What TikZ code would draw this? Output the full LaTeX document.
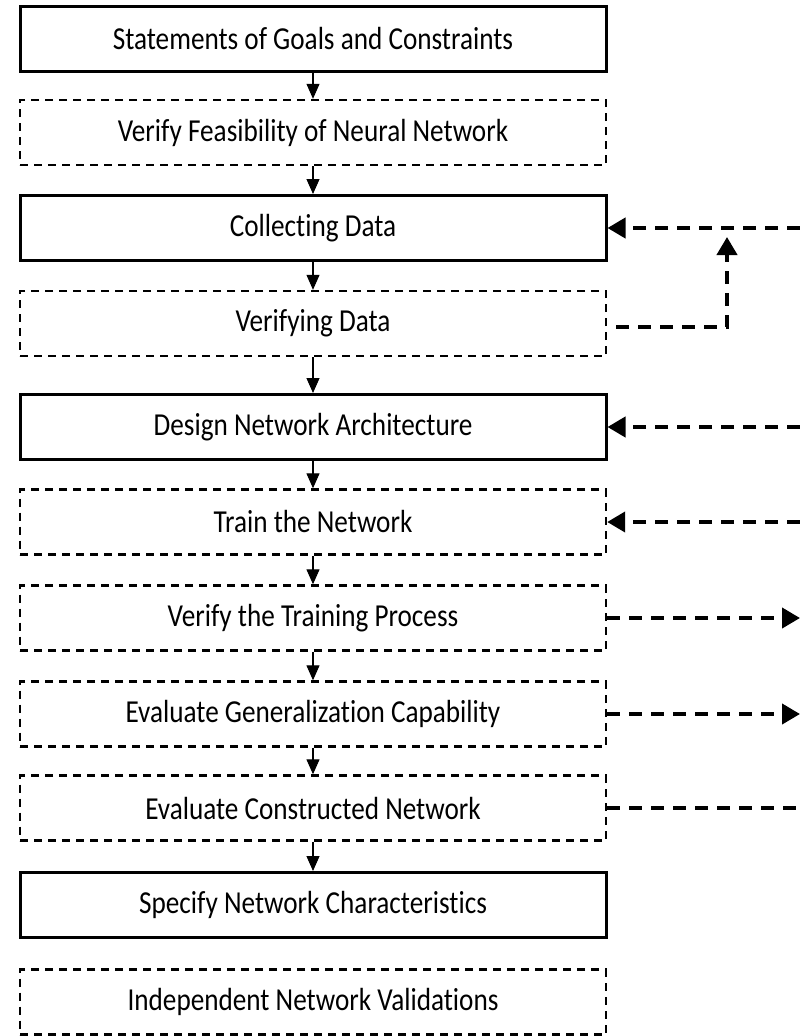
\documentclass[tikz,border=0pt]{standalone}
\usepackage{fontspec}
\setmainfont[FakeStretch=0.85, Ligatures=NoCommon]{Carlito}
\usetikzlibrary{arrows.meta}
\tikzset{
  stepbox/.style={draw=black, line width=3pt, minimum width=586pt, minimum height=65pt, inner sep=0pt, font=\fontsize{32}{36}\selectfont, fill=white},
  dashbox/.style={stepbox, line width=2.4pt, dash pattern=on 8pt off 6pt},
  down/.style={line width=1.1pt, -{Triangle[length=15pt,width=13pt]}},
  fbtip/.style={-{Triangle[length=18pt,width=20pt]}},
  fbplain/.style={line width=4pt, dash pattern=on 13pt off 9pt},
  fb/.style={fbplain, fbtip}
}
\begin{document}
\begin{tikzpicture}[x=1pt,y=-1pt]
\useasboundingbox (0,0) rectangle (800,1036);
\node[stepbox] (n1) at (313,38.5) {Statements of Goals and Constraints};
\node[dashbox] (n2) at (313,132.5) {Verify Feasibility of Neural Network};
\node[stepbox] (n3) at (313,228) {Collecting Data};
\node[dashbox] (n4) at (313,323.5) {Verifying Data};
\node[stepbox] (n5) at (313,427) {Design Network Architecture};
\node[dashbox] (n6) at (313,522) {Train the Network};
\node[dashbox] (n7) at (313,618) {Verify the Training Process};
\node[dashbox] (n8) at (313,714) {Evaluate Generalization Capability};
\node[dashbox] (n9) at (313,808) {Evaluate Constructed Network};
\node[stepbox] (n10) at (313,905) {Specify Network Characteristics};
\node[dashbox] (n11) at (313,1002) {Independent Network Validations};

\foreach \a/\b in {n1/n2,n2/n3,n3/n4,n4/n5,n5/n6,n6/n7,n7/n8,n8/n9,n9/n10}
  \draw[down] (\a.south) -- (\b.north);

% feedback connectors
\coordinate (c3) at (800,228);
\coordinate (c5) at (800,427);
\coordinate (c6) at (800,522);
\coordinate (c7) at (800,618);
\coordinate (c8) at (800,714);
\coordinate (c9) at (800,808);
\coordinate (v4) at (727,327);
\coordinate (v4t) at (727,237);

\draw[fb] (c3) -- (n3.east);
\draw[fb, dash phase=13pt] (n4.east |- v4) -- (v4) -- (v4t);
\draw[fb] (c5) -- (n5.east);
\draw[fb] (c6) -- (n6.east);
\draw[fb] (n7.east) -- (c7);
\draw[fb] (n8.east) -- (c8);
\draw[fbplain] (n9.east) -- (c9);
\end{tikzpicture}
\end{document}
